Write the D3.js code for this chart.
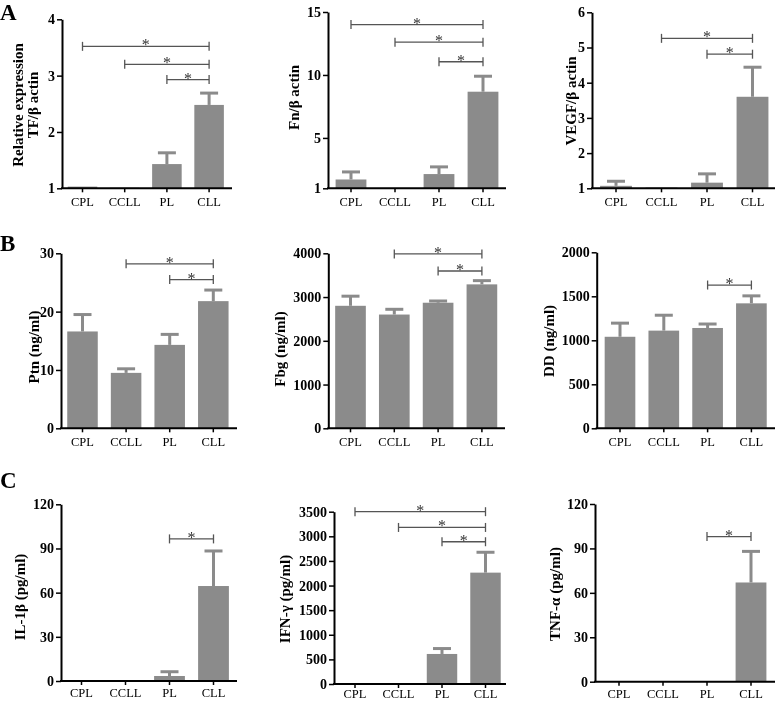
<!DOCTYPE html>
<html>
<head>
<meta charset="utf-8">
<script src="https://d3js.org/d3.v7.min.js"></script>
<style>
  body { margin: 0; background: #fff; }
  svg { will-change: transform; }
  text { font-family: "Liberation Serif", "Times New Roman", serif; }
</style>
</head>
<body>
<script>
// groups on every x axis
var groups = ["CPL", "CCLL", "PL", "CLL"];

// means and upper error (SEM)
var tfMean = [1.03, 1.01, 1.43, 2.48],  tfErr = [0, 0, 0.20, 0.21];
var fnMean = [1.7, 1.03, 2.13, 8.67],   fnErr = [0.6, 0, 0.57, 1.23];
var vegfMean = [1.07, 1.02, 1.16, 3.6], vegfErr = [0.13, 0, 0.25, 0.84];
var ptnMean = [16.6, 9.5, 14.3, 21.8],  ptnErr = [2.9, 0.7, 1.8, 1.9];
var fbgMean = [2800, 2600, 2870, 3290], fbgErr = [220, 120, 40, 85];
var ddMean = [1040, 1110, 1140, 1420],  ddErr = [155, 175, 45, 85];
var il1Mean = [0, 0, 3.4, 64.5],        il1Err = [0, 0, 2.9, 23.8];
var ifnMean = [0, 0, 610, 2262],        ifnErr = [0, 0, 110, 414];
var tnfMean = [0, 0, 0, 67],            tnfErr = [0, 0, 0, 21];

// y tick labels
var tfTicks = [1, 2, 3, 4];
var fnTicks = [1, 5, 10, 15];
var vegfTicks = [1, 2, 3, 4, 5, 6];
var ptnTicks = [0, 10, 20, 30];
var fbgTicks = [0, 1000, 2000, 3000, 4000];
var ddTicks = [0, 500, 1000, 1500, 2000];
var il1Ticks = [0, 30, 60, 90, 120];
var ifnTicks = [0, 500, 1000, 1500, 2000, 2500, 3000, 3500];
var tnfTicks = [0, 30, 60, 90, 120];

// significance brackets: [from group, to group, level]
var tfSig = [[0, 3, 3.52], [1, 3, 3.2], [2, 3, 2.93]];
var fnSig = [[0, 3, 14.0], [1, 3, 12.6], [2, 3, 11.05]];
var vegfSig = [[1, 3, 5.26], [2, 3, 4.81]];
var ptnSig = [[1, 3, 28.2], [2, 3, 25.5]];
var fbgSig = [[1, 3, 3985], [2, 3, 3595]];
var ddSig = [[2, 3, 1628]];
var il1Sig = [[2, 3, 96.5]];
var ifnSig = [[0, 3, 3500], [1, 3, 3180], [2, 3, 2890]];
var tnfSig = [[2, 3, 98]];

var svg = d3.select("body").append("svg")
  .attr("width", 775).attr("height", 702);

var barColor = "#8b8b8b";
var serif = "'Liberation Serif', 'Times New Roman', serif";

// layout for each panel (pixels)
var panels = [
  {mean: tfMean, err: tfErr, ticks: tfTicks, sig: tfSig, title: ["Relative expression", "TF/\u03b2 actin"],
   ax: 62, xEnd: 232, c0: 82.5, step: 42.2, yTop: 19.3, yBot: 188.3, tx: 23, ty: 105, pad: 5},
  {mean: fnMean, err: fnErr, ticks: fnTicks, sig: fnSig, title: ["Fn/\u03b2 actin"],
   ax: 328, xEnd: 506, c0: 351, step: 44, yTop: 12, yBot: 188.3, tx: 298.5, ty: 97.5, pad: 5},
  {mean: vegfMean, err: vegfErr, ticks: vegfTicks, sig: vegfSig, title: ["VEGF/\u03b2 actin"],
   ax: 592, xEnd: 776, c0: 616, step: 45.5, yTop: 12.3, yBot: 188.3, tx: 575.5, ty: 101, pad: 5},
  {mean: ptnMean, err: ptnErr, ticks: ptnTicks, sig: ptnSig, title: ["Ptn (ng/ml)"],
   ax: 61, xEnd: 237, c0: 82.5, step: 43.6, yTop: 253.3, yBot: 428.3, tx: 38.5, ty: 347, pad: 5},
  {mean: fbgMean, err: fbgErr, ticks: fbgTicks, sig: fbgSig, title: ["Fbg (ng/ml)"],
   ax: 328.3, xEnd: 505, c0: 350.5, step: 43.8, yTop: 253.3, yBot: 428.3, tx: 285, ty: 349, pad: 5},
  {mean: ddMean, err: ddErr, ticks: ddTicks, sig: ddSig, title: ["DD (ng/ml)"],
   ax: 596.7, xEnd: 776, c0: 620, step: 43.8, yTop: 252.3, yBot: 428.3, tx: 553.5, ty: 341, pad: 5},
  {mean: il1Mean, err: il1Err, ticks: il1Ticks, sig: il1Sig, title: ["IL-1\u03b2 (pg/ml)"],
   ax: 61, xEnd: 237, c0: 81.5, step: 44, yTop: 504.3, yBot: 681, tx: 25, ty: 597, pad: 3},
  {mean: ifnMean, err: ifnErr, ticks: ifnTicks, sig: ifnSig, title: ["IFN-\u03b3 (pg/ml)"],
   ax: 334, xEnd: 506, c0: 355, step: 43.5, yTop: 511.7, yBot: 684, tx: 290, ty: 599, pad: 1},
  {mean: tnfMean, err: tnfErr, ticks: tnfTicks, sig: tnfSig, title: ["TNF-\u03b1 (pg/ml)"],
   ax: 595, xEnd: 776, c0: 619, step: 44, yTop: 504, yBot: 681.7, tx: 560, ty: 594, pad: 3}
];

panels.forEach(function(p) {
  var g = svg.append("g");
  var ticks = p.ticks;

  var x = d3.scaleBand()
    .domain(groups)
    .range([p.c0 - p.step / 2, p.c0 + p.step * 3.5])
    .paddingInner(0.3).paddingOuter(0.15);

  var y = d3.scaleLinear()
    .domain([ticks[0], ticks[ticks.length - 1]])
    .range([p.yBot, p.yTop]);

  var data = groups.map(function(k, i) { return {k: k, m: p.mean[i], e: p.err[i]}; });

  // bars
  g.selectAll("rect.bar").data(data).enter().append("rect")
    .attr("class", "bar")
    .attr("x", function(d) { return x(d.k); })
    .attr("width", x.bandwidth())
    .attr("y", function(d) { return y(d.m); })
    .attr("height", function(d) { return y(ticks[0]) - y(d.m); })
    .attr("fill", barColor);

  // error bars (upper only)
  var eb = data.filter(function(d) { return d.e > 0; });
  g.selectAll("line.ev").data(eb).enter().append("line")
    .attr("x1", function(d) { return x(d.k) + x.bandwidth() / 2; })
    .attr("x2", function(d) { return x(d.k) + x.bandwidth() / 2; })
    .attr("y1", function(d) { return y(d.m); })
    .attr("y2", function(d) { return y(d.m + d.e); })
    .attr("stroke", barColor).attr("stroke-width", 3);
  g.selectAll("line.cap").data(eb).enter().append("line")
    .attr("x1", function(d) { return x(d.k) + x.bandwidth() / 2 - 9; })
    .attr("x2", function(d) { return x(d.k) + x.bandwidth() / 2 + 9; })
    .attr("y1", function(d) { return y(d.m + d.e); })
    .attr("y2", function(d) { return y(d.m + d.e); })
    .attr("stroke", barColor).attr("stroke-width", 3);

  // y axis
  var ya = g.append("g")
    .attr("transform", "translate(" + p.ax + ",0)")
    .call(d3.axisLeft(y).tickValues(ticks).tickFormat(d3.format("d"))
      .tickSize(5).tickSizeOuter(0).tickPadding(2));
  ya.select(".domain").attr("stroke", "#000").attr("stroke-width", 2);
  ya.selectAll(".tick line").attr("stroke", "#000").attr("stroke-width", 1.5);
  ya.selectAll("text").attr("font-size", "14px").attr("font-weight", "bold")
    .attr("fill", "#000").style("font-family", serif);

  // x axis
  g.append("line")
    .attr("x1", p.ax - 1).attr("x2", p.xEnd)
    .attr("y1", p.yBot).attr("y2", p.yBot)
    .attr("stroke", "#000").attr("stroke-width", 2);
  var xa = g.append("g")
    .attr("transform", "translate(0," + p.yBot + ")")
    .call(d3.axisBottom(x).tickSize(4).tickSizeOuter(0).tickPadding(p.pad));
  xa.select(".domain").remove();
  xa.selectAll(".tick line").attr("stroke", "#000").attr("stroke-width", 1.5);
  xa.selectAll("text").attr("font-size", "12.5px").attr("fill", "#000")
    .style("font-family", serif);

  // y title
  var t = g.append("text")
    .attr("transform", "translate(" + p.tx + "," + p.ty + ") rotate(-90)")
    .attr("text-anchor", "middle")
    .attr("font-size", "15px").attr("font-weight", "bold").attr("fill", "#000")
    .style("font-family", serif);
  if (p.title.length === 2) {
    t.append("tspan").attr("x", 0).attr("dy", 0).text(p.title[0]);
    t.append("tspan").attr("x", 0).attr("dy", "1.03em").text(p.title[1]);
  } else {
    t.text(p.title[0]);
  }

  // significance brackets
  p.sig.forEach(function(s) {
    var x1 = x(groups[s[0]]) + x.bandwidth() / 2;
    var x2 = x(groups[s[1]]) + x.bandwidth() / 2;
    var yy = y(s[2]);
    var c = "#555";
    g.append("line").attr("x1", x1).attr("x2", x2).attr("y1", yy).attr("y2", yy)
      .attr("stroke", c).attr("stroke-width", 1.3);
    [x1, x2].forEach(function(xx) {
      g.append("line").attr("x1", xx).attr("x2", xx).attr("y1", yy - 4.5).attr("y2", yy + 4.5)
        .attr("stroke", c).attr("stroke-width", 1.3);
    });
    g.append("text").attr("x", (x1 + x2) / 2).attr("y", yy + 4)
      .attr("text-anchor", "middle").attr("font-size", "16px").attr("fill", "#333")
      .style("font-family", serif)
      .text("*");
  });
});

// panel letters
[["A", 0, 20], ["B", 0, 251], ["C", 0, 488]].forEach(function(l) {
  svg.append("text").attr("x", l[1]).attr("y", l[2])
    .attr("font-size", "23px").attr("font-weight", "bold").attr("fill", "#000")
    .style("font-family", serif)
    .text(l[0]);
});
</script>
</body>
</html>
